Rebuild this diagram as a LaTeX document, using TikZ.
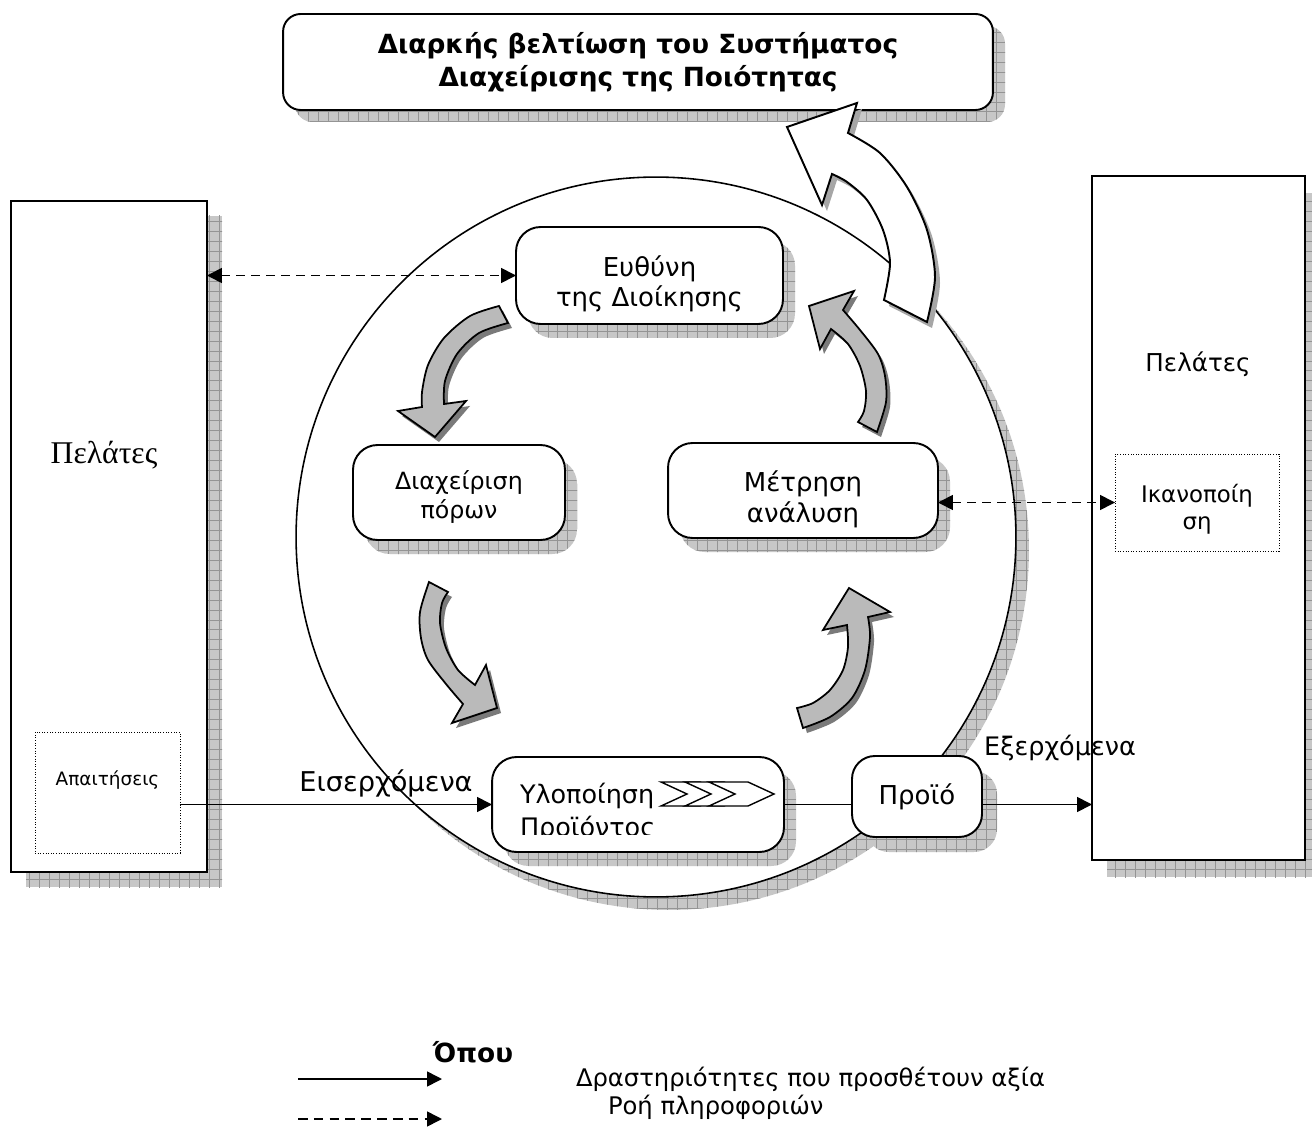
\documentclass[tikz,border=0pt]{standalone}
\usepackage{fontspec}
\setmainfont{DejaVu Sans}
\newfontfamily\serifgr{Liberation Serif}
\usetikzlibrary{arrows.meta,patterns}
\pgfdeclarepatternformonly{pxgrid}{\pgfqpoint{-0.5pt}{-0.5pt}}{\pgfqpoint{6.2pt}{6.2pt}}{\pgfqpoint{5.67pt}{5.67pt}}{%
  \pgfsetlinewidth{0.45pt}%
  \pgfpathmoveto{\pgfqpoint{0pt}{0pt}}\pgfpathlineto{\pgfqpoint{5.67pt}{0pt}}%
  \pgfpathmoveto{\pgfqpoint{0pt}{0pt}}\pgfpathlineto{\pgfqpoint{0pt}{5.67pt}}%
  \pgfusepath{stroke}}
\newcommand\setfs[2]{\fontsize{#1}{#2}\selectfont}
\newcommand\arrowAone{plot[smooth] coordinates {(499,306) (470,316) (444,338) (428,365) (422,392) (422,407)} -- (398,411) -- (435,437) -- (466,401) -- plot[smooth] coordinates {(444,404) (445,381) (457,354) (479,333) (508,323)} -- cycle}
\newcommand\arrowAtwo{plot[smooth] coordinates {(429,582) (420,612) (421,638) (428,660) (446,684) (463,704)} -- (452,723) -- (497,708) -- (486,665) -- plot[smooth] coordinates {(475,685) (458,670) (446,648) (440,623) (442,603) (448,592)} -- cycle}
\newcommand\arrowAthree{plot[smooth] coordinates {(803,728) (830,717) (852,698) (865,670) (870,637) (868,617)} -- (890,612) -- (849,588) -- (823,630) -- plot[smooth] coordinates {(847,625) (848,647) (843,670) (830,690) (813,703) (797,708)} -- cycle}
\newcommand\arrowAfour{plot[smooth] coordinates {(877,432) (886,402) (885,376) (878,354) (860,330) (843,310)} -- (854,291) -- (809,306) -- (820,349) -- plot[smooth] coordinates {(831,329) (848,344) (860,366) (866,391) (864,411) (858,422)} -- cycle}
\newcommand\arrowBig{(787,127) -- (857,103) -- plot[smooth] coordinates {(848,133) (880,153) (907,187) (927,230) (935,277) (927,322)} -- plot[smooth] coordinates {(884,300) (890,263) (883,230) (867,200) (847,182) (832,174)} -- (822,205) -- cycle}
\begin{document}
\begin{tikzpicture}[x=0.02cm, y=-0.02cm,
  every node/.style={inner sep=0pt, outer sep=0pt},
  shd/.style={fill=black!22, postaction={pattern=pxgrid, pattern color=black!42}},
  rbox/.style={draw, line width=1.1pt, fill=white, rounded corners=14pt},
  boxtext/.style={align=center, font=\setfs{14.8}{17.5}},
  tallbox/.style={draw, line width=1.1pt, fill=white},
  dotbox/.style={draw, densely dotted, line width=0.5pt, fill=white},
  conn/.style={line width=0.9pt, -{Triangle[length=8.5pt,width=8.5pt]}},
  dconn/.style={line width=0.9pt, dash pattern=on 5pt off 3.5pt, {Triangle[length=8.5pt,width=8.5pt]}-{Triangle[length=8.5pt,width=8.5pt]}},
  dconnone/.style={line width=0.9pt, dash pattern=on 5.5pt off 3.5pt, -{Triangle[length=8.5pt,width=8.5pt]}},
  garrow/.style={fill=black!27, draw=black, line width=1pt, line join=miter},
  gshadow/.style={fill=black!52},
  warrow/.style={fill=white, draw=black, line width=1.1pt, line join=miter},
  wshadow/.style={fill=black!35},
  lbl/.style={font=\setfs{14.5}{17.5}}]
\useasboundingbox (0,0) rectangle (1312,1128);
\fill[white] (0,0) rectangle (1312,1128);

% title
\fill[shd, rounded corners=10pt] (295,26) rectangle (1005,122);
\node[rbox, rounded corners=10pt, minimum width=14.2cm, minimum height=1.92cm, align=center, font=\bfseries\setfs{15}{18.7}] (title) at (638,62) {Διαρκής βελτίωση του Συστήματος\\Διαχείρισης της Ποιότητας};

% left customers
\fill[shd] (26,216) rectangle (222,887);
\node[tallbox, minimum width=3.92cm, minimum height=13.42cm] (lcust) at (109,536.5) {};
\node[font=\serifgr\setfs{18}{22}] (lcustl) at (104,455) {Πελάτες};
\node[dotbox, minimum width=2.9cm, minimum height=2.42cm] (apait) at (107.5,792.5) {};
\node[font=\setfs{10.5}{13}] (apaitl) at (107.5,780) {Απαιτήσεις};

% right customers
\fill[shd] (1107,193) rectangle (1320,877);
\node[tallbox, minimum width=4.26cm, minimum height=13.68cm] (rcust) at (1198.5,518) {};
\node[font=\setfs{14}{17}] (rcustl) at (1198,364) {Πελάτες};
\node[dotbox, minimum width=3.28cm, minimum height=1.94cm] (ikan) at (1197,502.5) {};
\node[align=center, font=\setfs{13}{15.3}] (ikanl) at (1197,509) {Ικανοποίη\\ση};

% circle
\fill[shd] (669,550) circle[radius=7.2cm];
\node[circle, draw, line width=0.9pt, fill=white, minimum size=14.4cm] (ring) at (656,537) {};

% inner boxes
\fill[shd, rounded corners=14pt] (528,241) rectangle (795,338);
\node[rbox, minimum width=5.34cm, minimum height=1.94cm] (resp) at (649.5,275.5) {};
\node[boxtext] (respl) at ([yshift=-4.8pt]resp.center) {Ευθύνη\\της Διοίκησης};
\fill[shd, rounded corners=14pt] (365,459) rectangle (577,554);
\node[rbox, minimum width=4.24cm, minimum height=1.9cm] (res) at (459,492.5) {};
\node[boxtext, font=\setfs{13.5}{16.5}] (resl) at ([yshift=-2.5pt]res.center) {Διαχείριση\\πόρων};
\fill[shd, rounded corners=14pt] (680,457) rectangle (950,552);
\node[rbox, minimum width=5.4cm, minimum height=1.9cm] (meas) at (803,490.5) {};
\node[boxtext] (measl) at ([yshift=-5pt]meas.center) {Μέτρηση\\ανάλυση};
\fill[shd, rounded corners=14pt] (504,771) rectangle (796,866);
\node[rbox, minimum width=5.84cm, minimum height=1.9cm] (ylo) at (638,804.5) {};
\begin{scope}
\clip (495,760) rectangle (782,834.5);
\node[anchor=base west, font=\setfs{14.5}{18}] (ylol) at (520,803) {Υλοποίηση};
\node[anchor=base west, font=\setfs{14.5}{18}] (ylol2) at (520,836.5) {Προϊόντος};
\end{scope}
\foreach \cx in {661,685,709}
  \draw[fill=white, line width=0.8pt, line join=miter] (\cx,782) -- ++(39,0) -- ++(26,12) -- ++(-26,12) -- ++(-39,0) -- ++(26,-12) -- cycle;
\fill[shd, rounded corners=13pt] (866,771) rectangle (997,852);
\node[rbox, rounded corners=13pt, minimum width=2.6cm, minimum height=1.62cm] (prod) at (917,796.5) {};
\node[boxtext] (prodl) at (prod.center) {Προϊό};

% gray curved arrows
\fill[gshadow, shift={(4,5)}] \arrowAone;
\draw[garrow] \arrowAone;
\fill[gshadow, shift={(4,5)}] \arrowAtwo;
\draw[garrow] \arrowAtwo;
\fill[gshadow, shift={(4,5)}] \arrowAthree;
\draw[garrow] \arrowAthree;
\fill[gshadow, shift={(4,5)}] \arrowAfour;
\draw[garrow] \arrowAfour;

% big white arrow
\fill[wshadow, shift={(5,6)}] \arrowBig;
\draw[warrow] \arrowBig;

% connectors
\draw[dconn] (lcust.east |- resp.west) -- (resp.west);
\draw[dconn] (ikan.west -| meas.east) -- (ikan.west);
\draw[conn] (apait.east |- ylo.west) -- (ylo.west);
\draw[line width=0.9pt] (ylo.east) -- (ylo.east -| prod.west);
\draw[conn] (prod.east |- ylo.east) -- (ylo.east -| rcust.west);
\node[lbl, font=\setfs{15.5}{18}] (inl) at (386,783) {Εισερχόμενα};
\node[lbl] (outl) at (1060,748) {Εξερχόμενα};

% legend
\node[font=\bfseries\setfs{15}{18}] (where) at (473,1052) {Όπου};
\coordinate (la1) at (298,1079);
\coordinate (la2) at (442,1079);
\draw[conn] (la1) -- (la2);
\coordinate (lb1) at (298,1119);
\coordinate (lb2) at (442,1119);
\draw[dconnone] (lb1) -- (lb2);
\node[anchor=west, font=\setfs{13.8}{16}] (leg1) at (576,1079) {Δραστηριότητες που προσθέτουν αξία};
\node[anchor=west, font=\setfs{13.8}{16}] (leg2) at (608,1107) {Ροή πληροφοριών};
\end{tikzpicture}
\end{document}
